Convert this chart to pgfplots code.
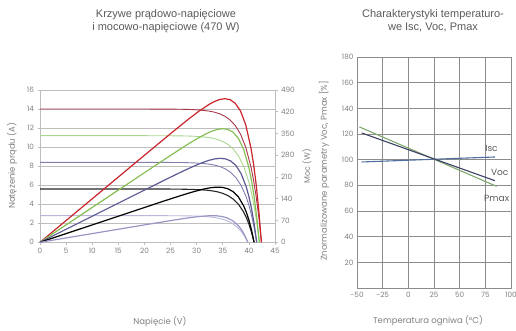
\documentclass[border=0pt]{standalone}
\usepackage{pgfplots}
\pgfplotsset{compat=1.18}
\usepackage{fontspec}
\setmainfont{Liberation Sans}
\newfontfamily\geo{Poppins}
\definecolor{gridc}{HTML}{BDBDBD}
\definecolor{gridd}{HTML}{8C8C8C}
\definecolor{tickc}{HTML}{808080}
\definecolor{titc}{HTML}{5A5A5A}
\definecolor{redP}{HTML}{C8252C}
\definecolor{redI}{HTML}{A8364A}
\definecolor{grnP}{HTML}{86C055}
\definecolor{grnI}{HTML}{A9D68F}
\definecolor{purP}{HTML}{5C5A94}
\definecolor{purI}{HTML}{7F7EAE}
\definecolor{blkP}{HTML}{000000}
\definecolor{blkI}{HTML}{262626}
\definecolor{lavP}{HTML}{9896C6}
\definecolor{lavI}{HTML}{B9B8DA}
\definecolor{iscc}{HTML}{4E6E9E}
\definecolor{vocc}{HTML}{3E4064}
\definecolor{pmxc}{HTML}{7FA86E}
\begin{document}
\begin{tikzpicture}[x=1pt,y=1pt]
\useasboundingbox (0,0) rectangle (516,331);
\pgfplotsset{
  tl/.style={ticklabel style={font=\geo\fontsize{7.3}{8}\selectfont, text=tickc},
    /pgf/number format/assume math mode=true}
}
% ---------- left chart, current ----------
\begin{axis}[at={(40pt,88.7pt)}, anchor=south west, scale only axis,
  width=235pt, height=152.3pt,
  xmin=0, xmax=45, ymin=0, ymax=16,
  xtick={0,5,...,45}, ytick={0,2,...,16},
  axis y line*=left, axis x line*=bottom,
  ymajorgrids, grid style={gridc, line width=0.6pt},
  axis line style={gridc, line width=0.6pt}, tick style={gridc, line width=0.6pt},
  tick align=outside, major tick length=2.5pt, tl, clip=false]
\addplot[redI, line width=0.9pt] coordinates {(0,14) (20,14) (25.4,13.99) (28.4,13.96) (30.4,13.91) (32.4,13.78) (33.4,13.67) (34.4,13.50) (35.4,13.24) (36.4,12.85) (37.4,12.26) (38.4,11.36) (39.4,9.99) (40.4,7.92) (40.9,6.51) (41.4,4.77) (41.9,2.63) (42.4,0)};
\addplot[grnI, line width=0.9pt] coordinates {(0,11.2) (20,11.2) (25,11.19) (28,11.17) (30,11.13) (32,11.03) (33,10.94) (34,10.80) (35,10.59) (36,10.28) (37,9.81) (38,9.08) (39,7.99) (40,6.33) (40.5,5.21) (41,3.82) (41.5,2.11) (42,0)};
\addplot[purI, line width=0.9pt] coordinates {(0,8.4) (20,8.4) (24.5,8.39) (27.5,8.38) (29.5,8.34) (31.5,8.27) (32.5,8.20) (33.5,8.10) (34.5,7.95) (35.5,7.71) (36.5,7.35) (37.5,6.81) (38.5,5.99) (39.5,4.75) (40,3.90) (40.5,2.86) (41,1.58) (41.5,0)};
\addplot[blkI, line width=1.1pt] coordinates {(0,5.6) (20,5.6) (24,5.60) (27,5.58) (29,5.56) (31,5.51) (32,5.47) (33,5.40) (34,5.30) (35,5.14) (36,4.90) (37,4.54) (38,4.00) (39,3.17) (39.5,2.60) (40,1.91) (40.5,1.05) (41,0)};
\addplot[lavI, line width=0.9pt] coordinates {(0,2.8) (20,2.8) (22.8,2.80) (25.8,2.79) (27.8,2.78) (29.8,2.76) (30.8,2.73) (31.8,2.70) (32.8,2.65) (33.8,2.57) (34.8,2.45) (35.8,2.27) (36.8,2.00) (37.8,1.58) (38.3,1.30) (38.8,0.95) (39.3,0.53) (39.8,0)};
\end{axis}
% ---------- left chart, power ----------
\begin{axis}[at={(40pt,88.7pt)}, anchor=south west, scale only axis,
  width=235pt, height=152.3pt,
  xmin=0, xmax=45, ymin=0, ymax=490,
  ytick={0,70,...,490}, axis y line*=right, axis x line=none,
  axis line style={gridc, line width=0.6pt}, tick style={gridc, line width=0.6pt},
  tick align=outside, major tick length=2.5pt, tl, clip=false]
\addplot[redP, line width=1.2pt] coordinates {(0,0) (10,140) (20,280) (25.4,355.1) (28.4,395.8) (30.4,421.4) (32.4,443.9) (33.4,452.9) (34.4,459.4) (35.4,462.0) (36.4,458.9) (37.4,447.1) (38.4,422.2) (39.4,377.6) (40.4,303.5) (40.9,251.0) (41.4,185.1) (41.9,102.6) (42.4,0)};
\addplot[grnP, line width=1.2pt] coordinates {(0,0) (10,112) (20,224) (25,279.6) (28,312.2) (30,332.7) (32,350.7) (33,358.0) (34,363.2) (35,365.5) (36,363.1) (37,353.8) (38,334.2) (39,299.0) (40,240.4) (40.5,198.9) (41,146.6) (41.5,81.3) (42,0)};
\addplot[purP, line width=1.2pt] coordinates {(0,0) (10,84) (20,168) (24.5,205.5) (27.5,229.9) (29.5,245.3) (31.5,258.9) (32.5,264.4) (33.5,268.4) (34.5,270.2) (35.5,268.5) (36.5,261.8) (37.5,247.4) (38.5,221.4) (39.5,178.0) (40,147.3) (40.5,108.6) (41,60.2) (41.5,0)};
\addplot[blkP, line width=1.2pt] coordinates {(0,0) (10,56) (20,112) (24,134.2) (27,150.5) (29,160.8) (31,169.9) (32,173.6) (33,176.3) (34,177.5) (35,176.5) (36,172.1) (37,162.7) (38,145.7) (39,117.2) (39.5,97.0) (40,71.5) (40.5,39.7) (41,0)};
\addplot[lavP, line width=1.2pt] coordinates {(0,0) (10,28) (20,56) (22.8,63.7) (25.8,71.9) (27.8,77.1) (29.8,81.7) (30.8,83.5) (31.8,84.9) (32.8,85.6) (33.8,85.2) (34.8,83.2) (35.8,78.7) (36.8,70.5) (37.8,56.8) (38.3,47.0) (38.8,34.7) (39.3,19.2) (39.8,0)};
\end{axis}
% ---------- right chart ----------
\begin{axis}[at={(357pt,43pt)}, anchor=south west, scale only axis,
  width=154pt, height=231pt,
  xmin=-50, xmax=100, ymin=0, ymax=180,
  xtick={-50,-25,...,100}, ytick={20,40,...,180},
  grid=major, grid style={gridd, line width=0.6pt},
  axis line style={gridd, line width=0.6pt}, major tick length=0pt,
  xticklabel style={yshift=-1pt}, tl, clip=false]
\addplot[iscc, line width=1.1pt] coordinates {(-45.4,98.2) (84.4,102.1)};
\addplot[pmxc, line width=1.1pt] coordinates {(-47.7,125.5) (86,79.2)};
\addplot[vocc, line width=1.1pt] coordinates {(-45.4,120.8) (84.4,83.6)};
\node[font=\geo\fontsize{9}{10}\selectfont, text=titc] at (axis cs:81,109) {Isc};
\node[font=\geo\fontsize{9}{10}\selectfont, text=titc] at (axis cs:89,90) {Voc};
\node[font=\geo\fontsize{9}{10}\selectfont, text=titc] at (axis cs:86,70) {Pmax};
\end{axis}
% ---------- texts ----------
\node[font=\fontsize{11}{13}\selectfont, text=titc, align=center] at (166,310) {Krzywe prądowo-napięciowe\\i mocowo-napięciowe (470 W)};
\node[font=\fontsize{11}{13}\selectfont, text=titc, align=center] at (433,310) {Charakterystyki temperaturo-\\we Isc, Voc, Pmax};
\node[font=\geo\fontsize{8.5}{9}\selectfont, text=tickc] at (160,9) {Napięcie (V)};
\node[font=\geo\fontsize{8.5}{9}\selectfont, text=tickc] at (428,10) {Temperatura ogniwa (°C)};
\node[font=\geo\fontsize{8.5}{9}\selectfont, text=tickc, rotate=90] at (12,165) {Natężenie prądu (A)};
\node[font=\geo\fontsize{8}{9}\selectfont, text=tickc, rotate=90] at (307,165) {Moc (W)};
\node[font=\geo\fontsize{8.5}{9}\selectfont, text=tickc, rotate=90] at (324,160) {Znormalizowane parametry Voc, Pmax [\%]};
\end{tikzpicture}
\end{document}
